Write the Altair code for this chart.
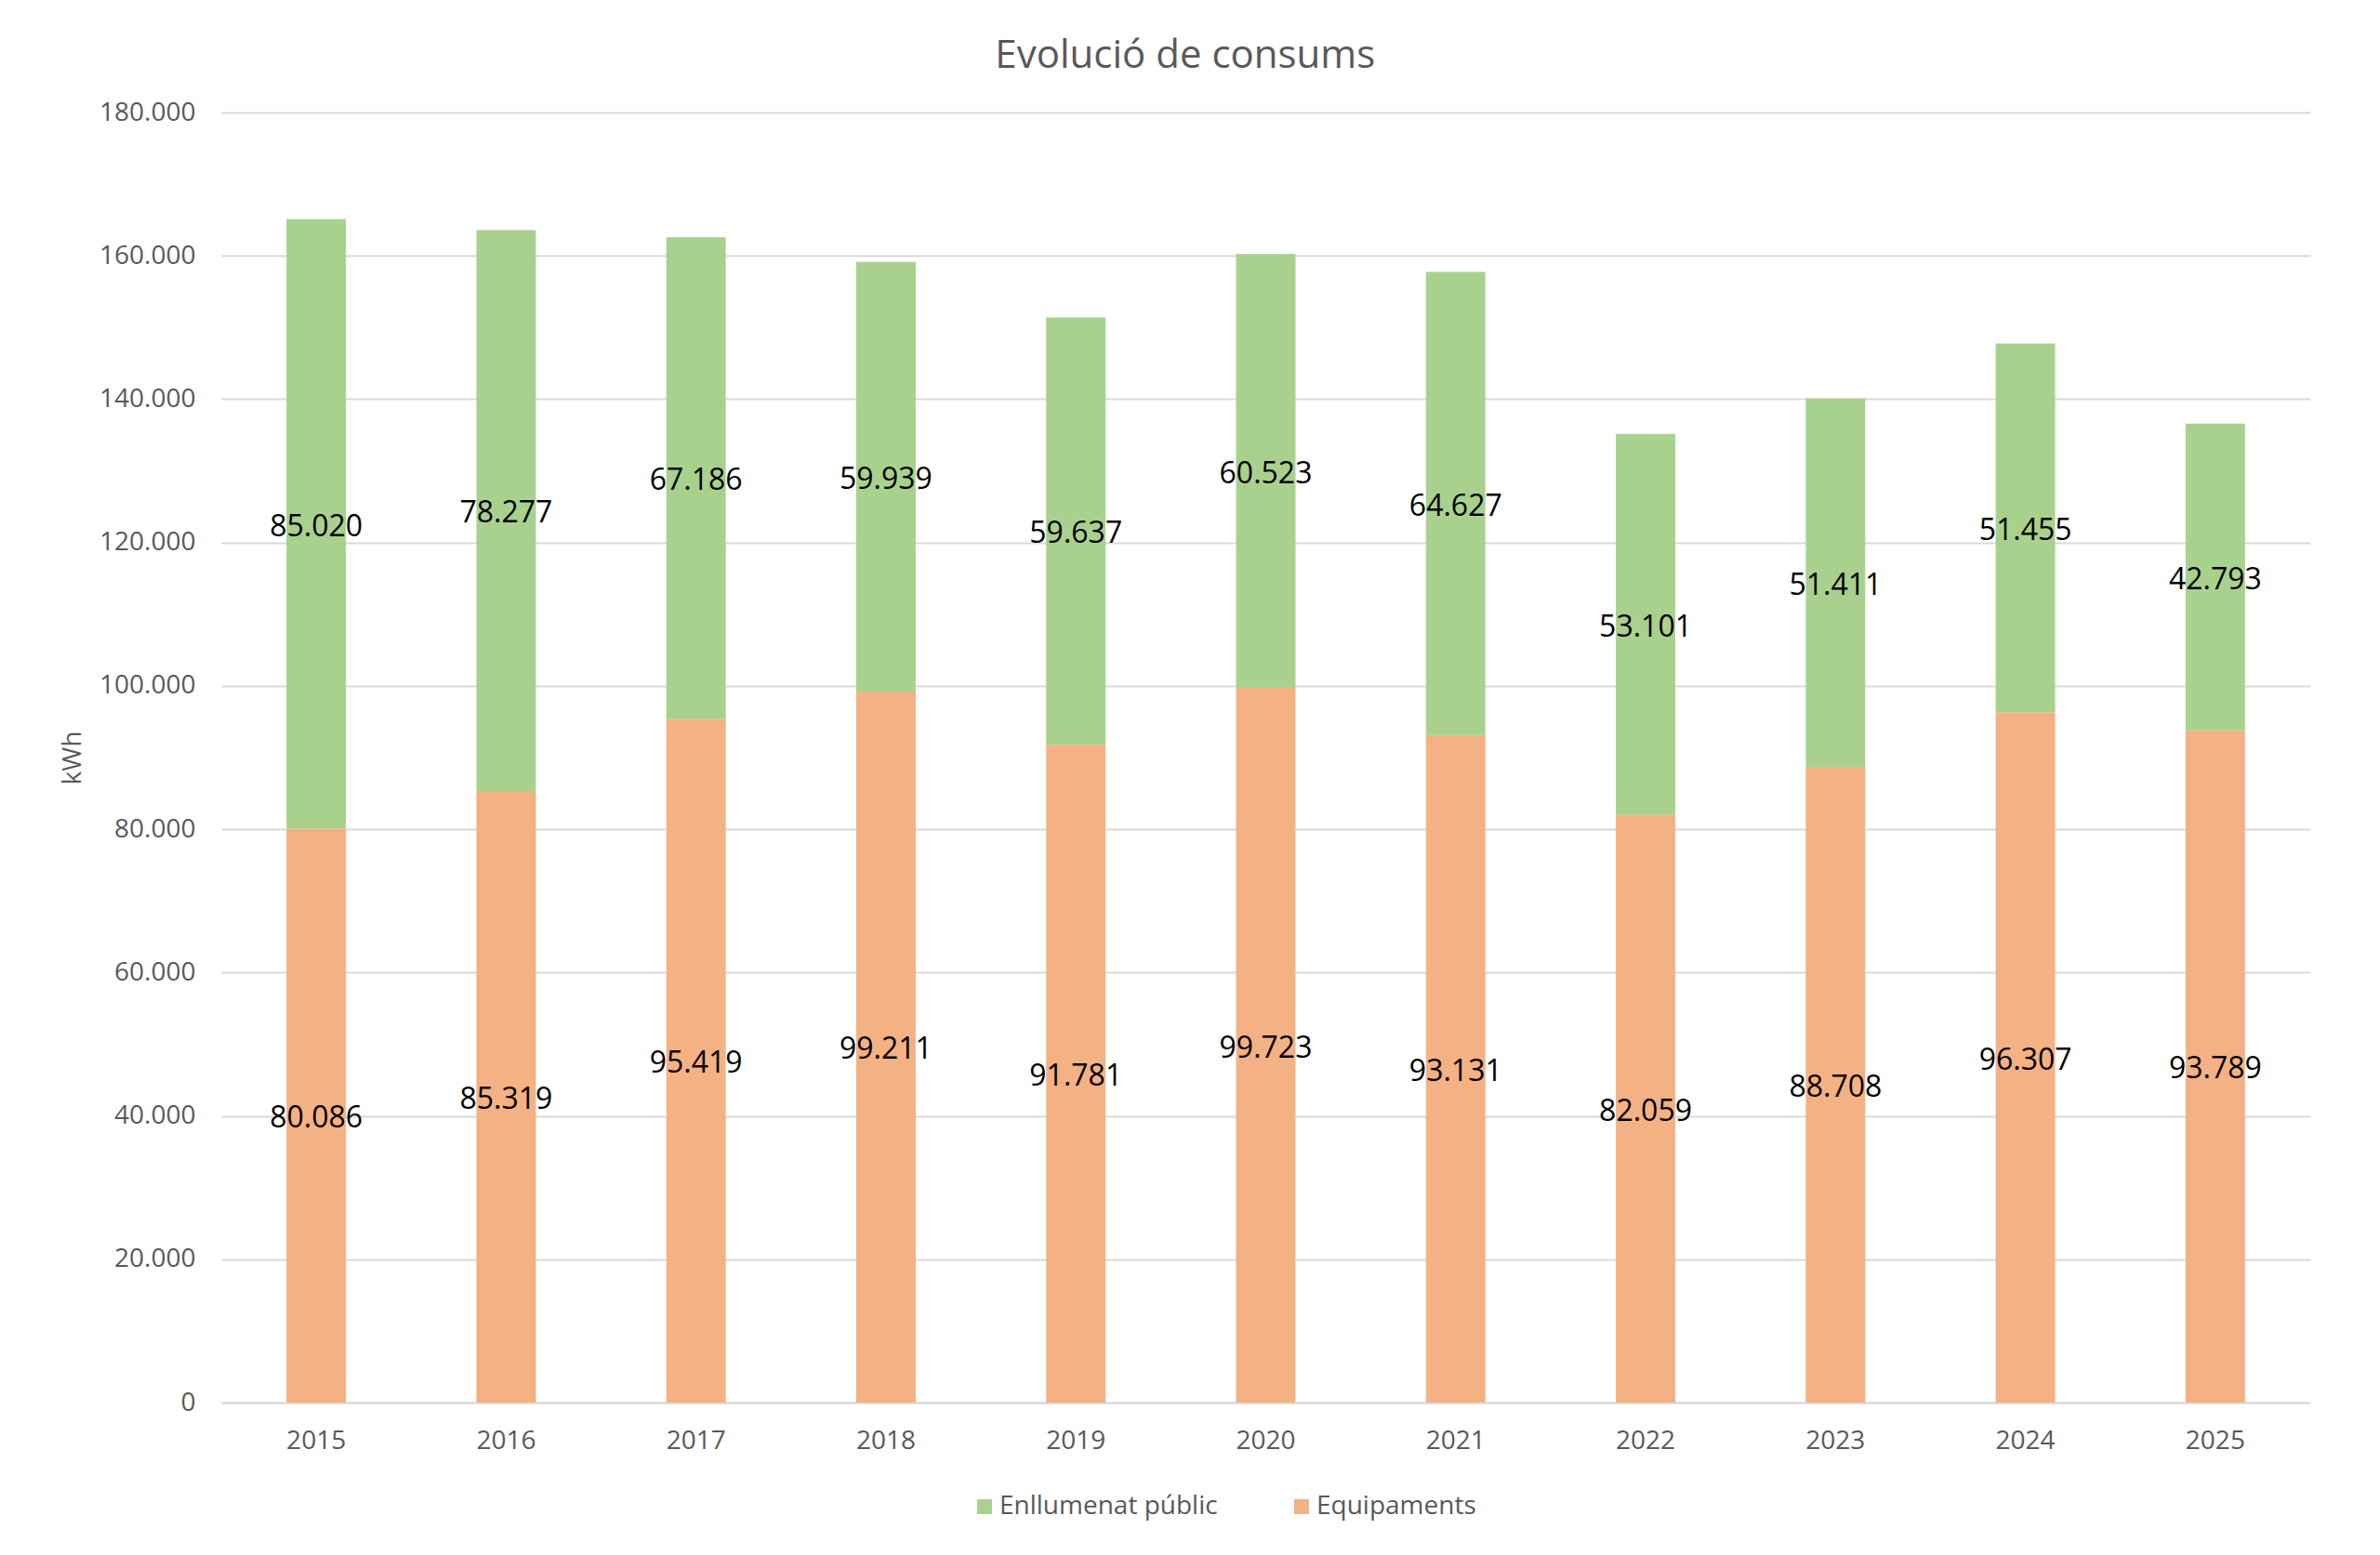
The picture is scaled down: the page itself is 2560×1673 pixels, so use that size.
import altair as alt
import pandas as pd

years = ["2015", "2016", "2017", "2018", "2019", "2020", "2021", "2022", "2023", "2024", "2025"]
equipaments = [80086, 85319, 95419, 99211, 91781, 99723, 93131, 82059, 88708, 96307, 93789]
enllumenat = [85020, 78277, 67186, 59939, 59637, 60523, 64627, 53101, 51411, 51455, 42793]

series = ["Enllumenat públic", "Equipaments"]
colors = ["#A9D18E", "#F4B183"]

rows = []
for i, y in enumerate(years):
    rows.append({"any": y, "serie": "Equipaments", "ordre": 0, "kwh": equipaments[i]})
    rows.append({"any": y, "serie": "Enllumenat públic", "ordre": 1, "kwh": enllumenat[i]})
df = pd.DataFrame(rows)

font = "Open Sans"
grey = "#595959"

base = alt.Chart(df).transform_stack(
    stack="kwh", groupby=["any"], sort=[alt.SortField("ordre")], as_=["y0", "y1"]
).transform_calculate(
    mid="(datum.y0 + datum.y1) / 2",
    etiqueta="format(datum.kwh / 1000, '.3f')"
)

x = alt.X("any:N", title=None,
          scale=alt.Scale(paddingInner=0.687, paddingOuter=0.3435),
          axis=alt.Axis(labelAngle=0, ticks=False, grid=False, domain=True, domainColor="#D9D9D9",
                        domainWidth=2, labelPadding=27, labelFontSize=28,
                        labelColor=grey, labelFont=font))

bars = base.mark_bar().encode(
    x=x,
    y=alt.Y("y0:Q", title="kWh",
            scale=alt.Scale(domain=[0, 180000]),
            axis=alt.Axis(values=list(range(0, 180001, 20000)), ticks=False, domain=False,
                          gridColor="#D9D9D9", gridWidth=2,
                          labelExpr="datum.value == 0 ? '0' : format(datum.value / 1000, 'd') + '.000'",
                          labelFontSize=28, labelColor=grey, labelFont=font, labelPadding=28,
                          titleFontSize=28, titleColor=grey, titleFont=font,
                          titleFontWeight="normal", titlePadding=14)),
    y2="y1:Q",
    color=alt.Color("serie:N", scale=alt.Scale(domain=series, range=colors),
                    legend=alt.Legend(title=None, orient="none", direction="horizontal",
                                      legendX=807, legendY=1486, symbolType="square",
                                      symbolSize=256, symbolStrokeWidth=0,
                                      labelFontSize=28, labelColor=grey, labelFont=font,
                                      labelLimit=500, labelOffset=2, columnPadding=76))
)

labels = base.mark_text(fontSize=32, font=font, color="black", dy=3).encode(
    x=x,
    y="mid:Q",
    text="etiqueta:N"
)

chart = (bars + labels).properties(
    width=2247,
    height=1388,
    background="white",
    autosize=alt.AutoSizeParams(type="none"),
    padding={"left": 230, "top": 113, "right": 67, "bottom": 150},
    title=alt.TitleParams("Evolució de consums", fontSize=42, font=font, color=grey,
                          fontWeight="normal", anchor="middle", frame="bounds", offset=25)
).configure_view(stroke=None, strokeWidth=0)

chart.save("out.html", embed_options={"renderer": "svg", "actions": False})
